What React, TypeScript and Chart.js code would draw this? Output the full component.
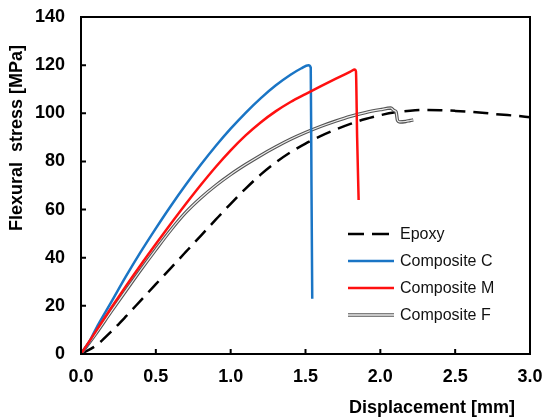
import React, { useEffect, useRef } from "react";
import { Chart, registerables } from "chart.js";
Chart.register(...registerables);

const xTicks = [0, 0.5, 1.0, 1.5, 2.0, 2.5, 3.0];
const yTicks = [0, 20, 40, 60, 80, 100, 120, 140];

const epoxyX = [0, 0.1, 0.2, 0.3, 0.4, 0.5, 0.6, 0.7, 0.8, 0.9, 1.0, 1.1, 1.2, 1.3, 1.4, 1.5, 1.6, 1.7, 1.8, 1.9, 2.0, 2.1, 2.2, 2.3, 2.4, 2.5, 2.6, 2.7, 2.8, 2.9, 3.0];
const epoxyY = [0, 3.5, 9.2, 15.6, 22.3, 29, 35.7, 42.4, 49.1, 55.8, 62.4, 68.7, 74.5, 79.5, 83.8, 87.4, 90.5, 93.2, 95.6, 97.6, 99.2, 100.4, 101.1, 101.4, 101.3, 101, 100.6, 100.1, 99.5, 99, 98.4];

const compCX = [0, 0.05, 0.1, 0.2, 0.3, 0.4, 0.5, 0.6, 0.7, 0.8, 0.9, 1.0, 1.1, 1.2, 1.3, 1.4, 1.47, 1.52, 1.535, 1.54, 1.545];
const compCY = [0, 4.5, 10.5, 21.3, 32.2, 42.5, 52.2, 61.5, 70.3, 78.6, 86.4, 93.6, 100.2, 106.2, 111.5, 116, 118.6, 120, 119, 70, 23];

const compMX = [0, 0.1, 0.2, 0.3, 0.4, 0.5, 0.6, 0.7, 0.8, 0.9, 1.0, 1.1, 1.2, 1.3, 1.4, 1.5, 1.6, 1.7, 1.8, 1.83, 1.837, 1.845, 1.855];
const compMY = [0, 9.5, 19, 28.2, 37.1, 45.7, 54.1, 62.3, 70.2, 77.7, 84.6, 90.8, 96.2, 100.8, 104.7, 108, 111.2, 114.3, 117.3, 118.2, 117.5, 90, 64];

const compFX = [0, 0.1, 0.2, 0.3, 0.4, 0.5, 0.6, 0.7, 0.8, 0.9, 1.0, 1.1, 1.2, 1.3, 1.4, 1.5, 1.6, 1.7, 1.8, 1.9, 2.0, 2.07, 2.09, 2.105, 2.115, 2.13, 2.17, 2.2, 2.22];
const compFY = [0, 8.5, 17.5, 26.3, 35, 43.4, 51.5, 58.8, 64.8, 70, 74.6, 78.7, 82.5, 86, 89.2, 92, 94.5, 96.7, 98.7, 100.3, 101.5, 102.2, 101.2, 100.6, 97, 96.4, 96.6, 97, 97.2];

const seriesNames = ["Epoxy", "Composite C", "Composite M", "Composite F"];
const BLUE = "#1a75c5";
const RED = "#ff1010";

const pts = (xs: number[], ys: number[]) => xs.map((x, i) => ({ x, y: ys[i] }));

const FONT = "'Liberation Sans', Arial, sans-serif";

const decorPlugin = {
  id: "decor",
  afterDraw(chart: any) {
    const { ctx, chartArea, scales } = chart;
    const { left, right, top, bottom } = chartArea;
    ctx.save();
    ctx.strokeStyle = "#000";
    ctx.lineWidth = 2;
    ctx.beginPath();
    ctx.moveTo(left, top);
    ctx.lineTo(right, top);
    ctx.lineTo(right, bottom);
    ctx.stroke();
    ctx.beginPath();
    yTicks.forEach((v) => {
      const py = scales.y.getPixelForValue(v);
      ctx.moveTo(left, py);
      ctx.lineTo(left + 5, py);
    });
    xTicks.forEach((v) => {
      const px = scales.x.getPixelForValue(v);
      ctx.moveTo(px, bottom);
      ctx.lineTo(px, bottom - 5);
    });
    ctx.stroke();

    ctx.fillStyle = "#000";
    ctx.font = `bold 18px ${FONT}`;
    ctx.textAlign = "right";
    ctx.textBaseline = "alphabetic";
    ctx.fillText("Displacement [mm]", 515, 413);
    ctx.save();
    ctx.translate(22, 138);
    ctx.rotate(-Math.PI / 2);
    ctx.textAlign = "center";
    ctx.fillText("Flexural  stress [MPa]", 0, 0);
    ctx.restore();

    const rows = [234, 261, 288, 315];
    const x0 = 348, x1 = 394;
    ctx.font = `16px ${FONT}`;
    ctx.textAlign = "left";
    ctx.textBaseline = "middle";
    rows.forEach((ry, i) => {
      ctx.save();
      ctx.lineCap = "butt";
      if (i === 0) {
        ctx.strokeStyle = "#000";
        ctx.lineWidth = 2.5;
        ctx.beginPath();
        ctx.moveTo(x0, ry);
        ctx.lineTo(x0 + 16, ry);
        ctx.moveTo(x0 + 24, ry);
        ctx.lineTo(x0 + 41, ry);
        ctx.stroke();
      } else if (i === 3) {
        ctx.strokeStyle = "#555";
        ctx.lineWidth = 3.5;
        ctx.beginPath();
        ctx.moveTo(x0, ry);
        ctx.lineTo(x1, ry);
        ctx.stroke();
        ctx.strokeStyle = "#eee";
        ctx.lineWidth = 1.3;
        ctx.beginPath();
        ctx.moveTo(x0, ry);
        ctx.lineTo(x1, ry);
        ctx.stroke();
      } else {
        ctx.strokeStyle = i === 1 ? BLUE : RED;
        ctx.lineWidth = 2.5;
        ctx.beginPath();
        ctx.moveTo(x0, ry);
        ctx.lineTo(x1, ry);
        ctx.stroke();
      }
      ctx.restore();
      ctx.fillStyle = "#111";
      ctx.fillText(seriesNames[i], 400, ry + 1);
    });
    ctx.restore();
  },
};

export default function App() {
  const ref = useRef<HTMLCanvasElement>(null);
  useEffect(() => {
    if (!ref.current) return;
    const common = { showLine: true, pointRadius: 0, fill: false, cubicInterpolationMode: "monotone" as const };
    const chart = new Chart(ref.current, {
      type: "scatter",
      data: {
        datasets: [
          { ...common, label: seriesNames[2], data: pts(compMX, compMY), borderColor: RED, borderWidth: 2.5, order: 1 },
          { ...common, label: seriesNames[1], data: pts(compCX, compCY), borderColor: BLUE, borderWidth: 2.5, order: 2 },
          { ...common, label: seriesNames[3] + " inner", data: pts(compFX, compFY), borderColor: "#eee", borderWidth: 1.2, order: 3 },
          { ...common, label: seriesNames[3], data: pts(compFX, compFY), borderColor: "#555", borderWidth: 3.4, order: 4 },
          { ...common, label: seriesNames[0], data: pts(epoxyX, epoxyY), borderColor: "#000", borderWidth: 2.5, borderDash: [15, 8], order: 5 },
        ],
      },
      options: {
        responsive: false,
        animation: false,
        layout: { padding: { top: 17, right: 14, left: 0, bottom: 0 } },
        plugins: { legend: { display: false }, tooltip: { enabled: false } },
        scales: {
          x: {
            type: "linear",
            min: 0,
            max: 3,
            afterBuildTicks: (s: any) => { s.ticks = xTicks.map((v) => ({ value: v })); },
            afterFit: (s: any) => { s.height = 64; s.paddingLeft = 0; s.paddingRight = 0; },
            grid: { display: false, drawTicks: false },
            border: { display: true, color: "#000", width: 2 },
            ticks: {
              color: "#000",
              padding: 12,
              font: { family: FONT, size: 18, weight: "bold" },
              callback: (v: any) => Number(v).toFixed(1),
            },
          },
          y: {
            type: "linear",
            min: 0,
            max: 140,
            afterBuildTicks: (s: any) => { s.ticks = yTicks.map((v) => ({ value: v })); },
            afterFit: (s: any) => { s.width = 81; s.paddingTop = 0; s.paddingBottom = 0; },
            grid: { display: false, drawTicks: false },
            border: { display: true, color: "#000", width: 2 },
            ticks: {
              color: "#000",
              padding: 16,
              font: { family: FONT, size: 18, weight: "bold" },
              callback: (v: any) => String(v),
            },
          },
        },
      },
      plugins: [decorPlugin],
    });
    return () => chart.destroy();
  }, []);
  return (
    <div style={{ position: "fixed", left: 0, top: 0, width: 544, height: 418, background: "#fff" }}>
      <canvas ref={ref} width={544} height={418} style={{ width: 544, height: 418 }} />
    </div>
  );
}
